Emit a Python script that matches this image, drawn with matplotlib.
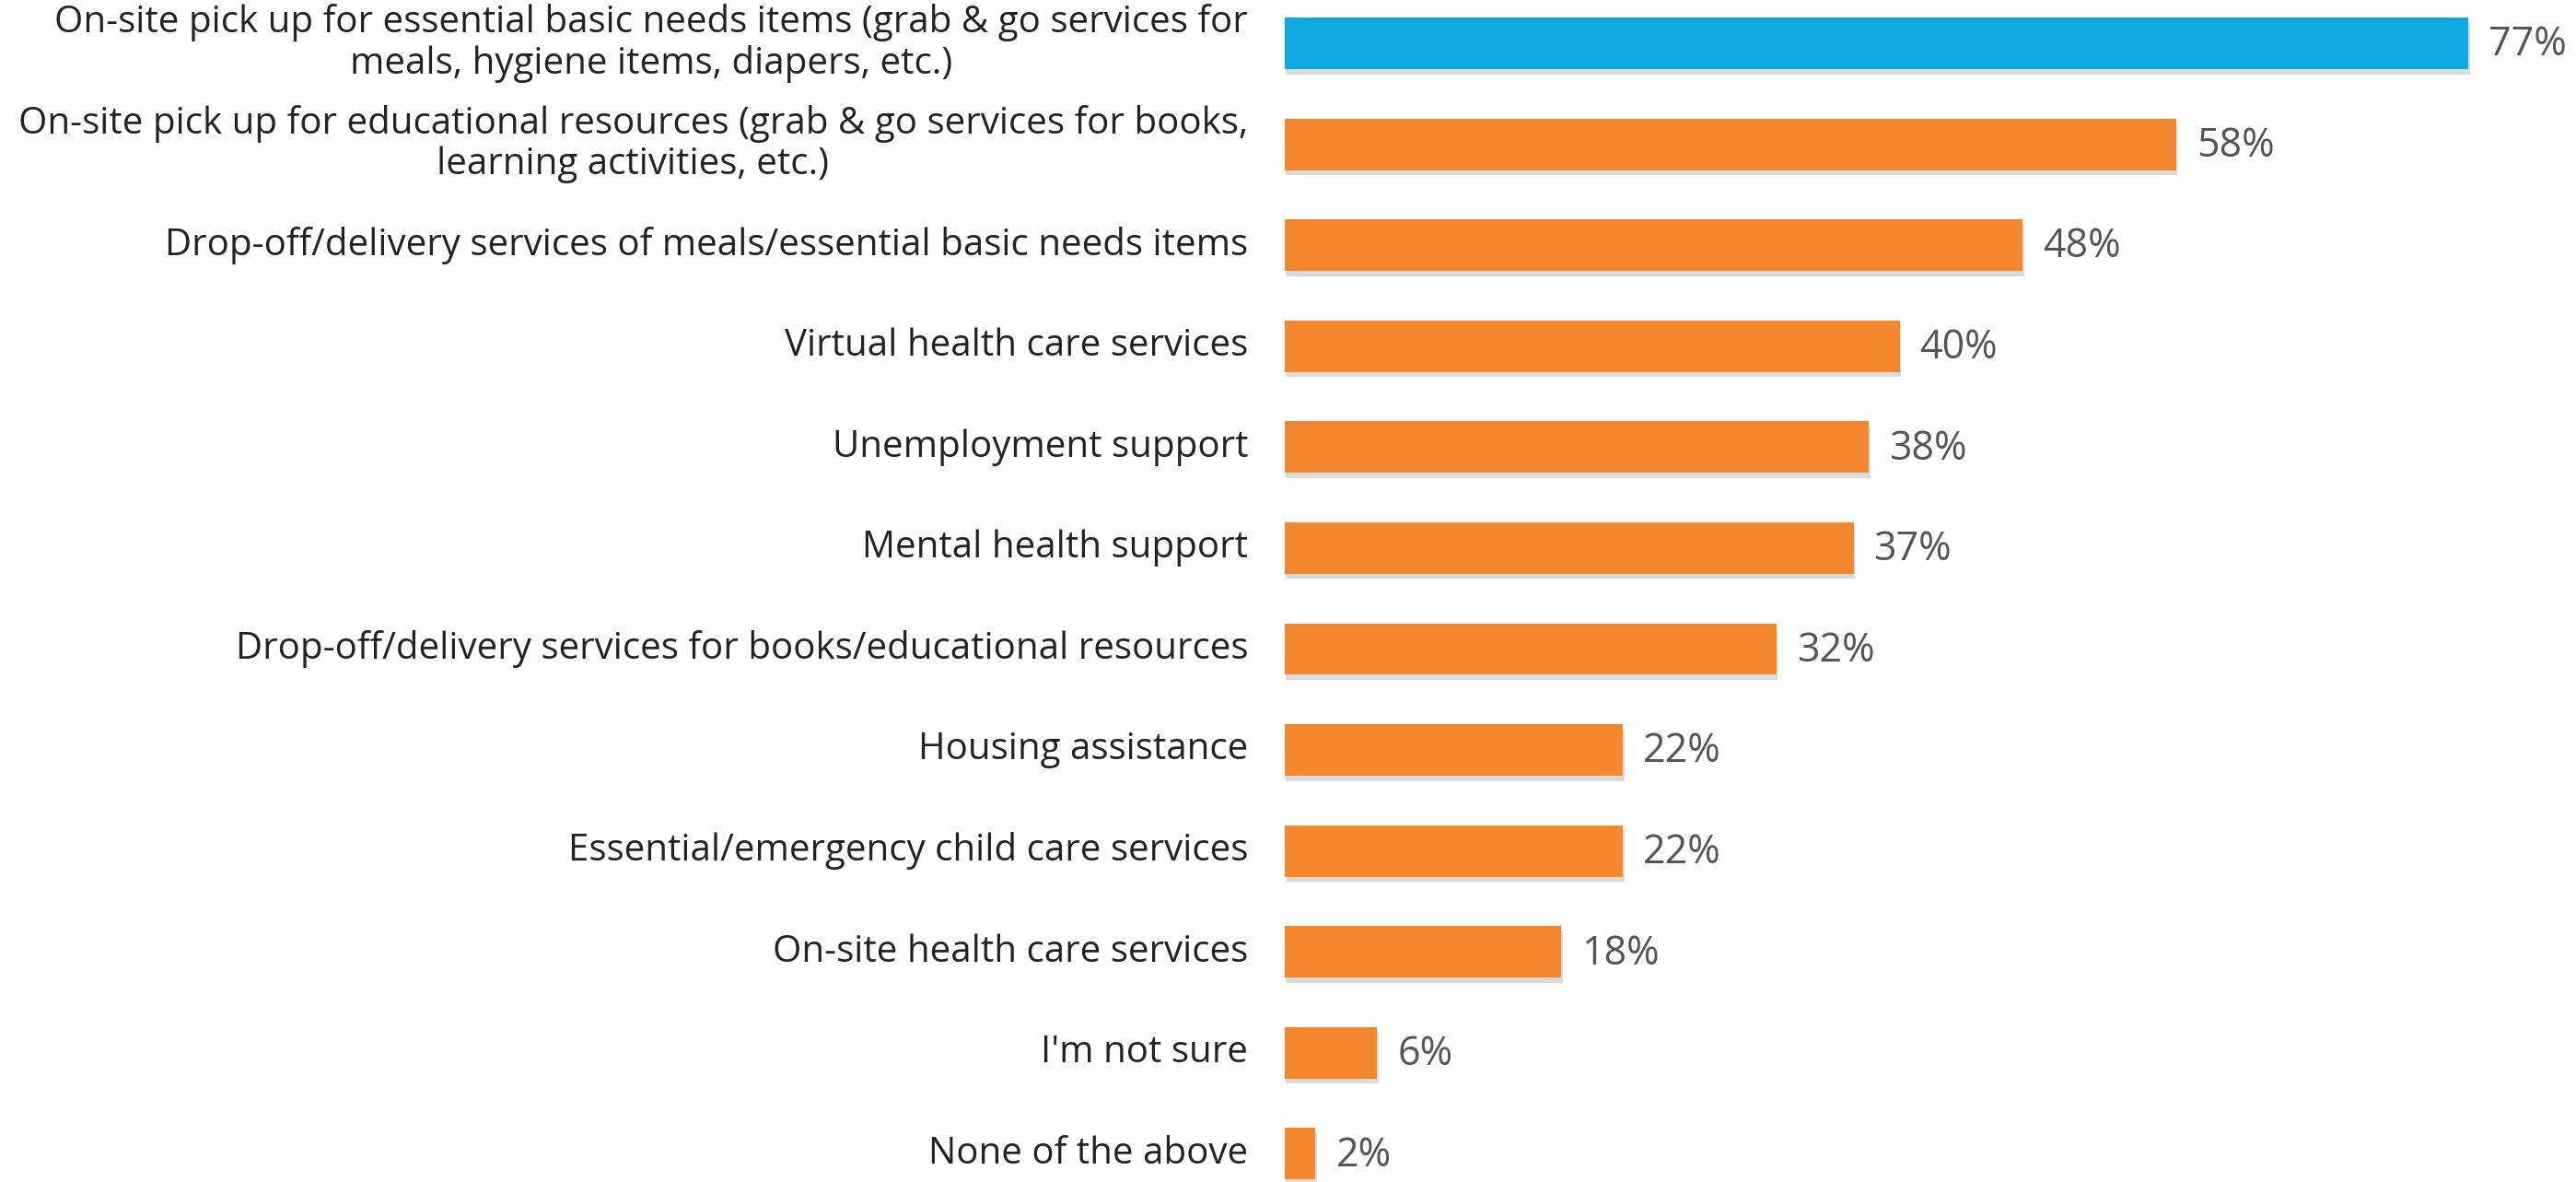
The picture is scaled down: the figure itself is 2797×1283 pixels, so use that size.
import matplotlib
matplotlib.use("Agg")
import matplotlib.pyplot as plt
import matplotlib.patheffects as pe

categories = [
    "On-site pick up for essential basic needs items (grab & go services for\nmeals, hygiene items, diapers, etc.)",
    "On-site pick up for educational resources (grab & go services for books,\nlearning activities, etc.)",
    "Drop-off/delivery services of meals/essential basic needs items",
    "Virtual health care services",
    "Unemployment support",
    "Mental health support",
    "Drop-off/delivery services for books/educational resources",
    "Housing assistance",
    "Essential/emergency child care services",
    "On-site health care services",
    "I'm not sure",
    "None of the above",
]
values = [77, 58, 48, 40, 38, 37, 32, 22, 22, 18, 6, 2]
value_labels = ["77%", "58%", "48%", "40%", "38%", "37%", "32%", "22%", "22%", "18%", "6%", "2%"]

BLUE = "#0EABE1"
ORANGE = "#F5882E"
colors = [BLUE] + [ORANGE] * (len(values) - 1)

W, H, DPI = 2797, 1283, 100
fig = plt.figure(figsize=(W / DPI, H / DPI), dpi=DPI)
ax = fig.add_axes([1395 / W, 0.0, 1 - 1395 / W, 1.0])

pos = list(range(len(values)))
bars = ax.barh(pos, values, height=0.51, color=colors, zorder=2)
for b in bars:
    b.set_path_effects([
        pe.SimplePatchShadow(offset=(1, -4), shadow_rgbFace="#9a9a9a", alpha=0.35),
        pe.Normal(),
    ])

ax.set_xlim(0, 84)
ax.set_ylim(11.279, -0.429)
ax.axis("off")

# percentage labels just past the end of each bar
for p, v, lab in zip(pos, values, value_labels):
    ax.annotate(lab, xy=(v, p), xycoords="data",
                xytext=(22, -2), textcoords="offset pixels",
                ha="left", va="center",
                fontsize=31, color="#555555", family=["Open Sans", "DejaVu Sans"],
                annotation_clip=False)

# category names, right-aligned against the bar baseline
for p, cat in zip(pos, categories):
    ax.annotate(cat, xy=(0, p), xycoords="data",
                xytext=(-40, 0), textcoords="offset pixels",
                ha="right", va="center", multialignment="center",
                fontsize=29, color="#232323", family=["Open Sans", "DejaVu Sans"],
                linespacing=1.1, annotation_clip=False)

fig.savefig("out.png", dpi=DPI, facecolor="white")
